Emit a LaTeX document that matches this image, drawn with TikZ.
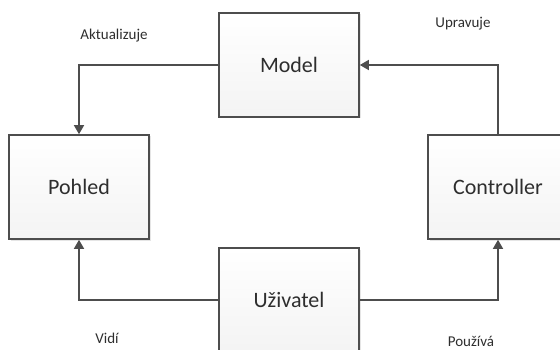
\documentclass[tikz,border=0pt]{standalone}
\usepackage{fontspec}
\setmainfont{Carlito}
\usetikzlibrary{arrows.meta,shadows}
\definecolor{edgegray}{HTML}{4D4D4D}
\definecolor{textgray}{HTML}{2E2E2E}
\tikzset{
  block/.style={draw=edgegray, line width=1.6pt, minimum width=140pt,
    minimum height=104pt, inner sep=0pt, top color=white, bottom color=gray!9,
    drop shadow={shadow xshift=1.5pt, shadow yshift=-1.5pt, opacity=0.2},
    font=\fontsize{22}{26}\selectfont, text=textgray},
  link/.style={draw=edgegray, line width=1.4pt,
    -{Triangle[length=9pt,width=10pt]}},
  caption/.style={font=\fontsize{15}{18}\selectfont, text=textgray, inner sep=0pt}
}
\begin{document}
\begin{tikzpicture}[x=1pt,y=-1pt]
  \useasboundingbox (0,0) rectangle (560,350);
  \clip (0,0) rectangle (560,350);
  \fill[white] (0,0) rectangle (560,350);

  % the four parts of the cycle
  \node[block] (model) at (289,65) {Model};
  \node[block] (pohled) at (79,187) {Pohled};
  \node[block] (ctrl) at (498,187) {Controller};
  \node[block] (uziv) at (289,300) {Uživatel};

  % relations between them
  \draw[link] (model.west) -| (pohled.north);
  \draw[link] (ctrl.north) |- (model.east);
  \draw[link] (uziv.east) -| (ctrl.south);
  \draw[link] (uziv.west) -| (pohled.south);

  % relation labels
  \node[caption] (lakt) at (114,36) {Aktualizuje};
  \node[caption] (lupr) at (463,24) {Upravuje};
  \node[caption] (lvid) at (107,338) {Vidí};
  \node[caption] (lpou) at (471,341) {Používá};
\end{tikzpicture}
\end{document}
